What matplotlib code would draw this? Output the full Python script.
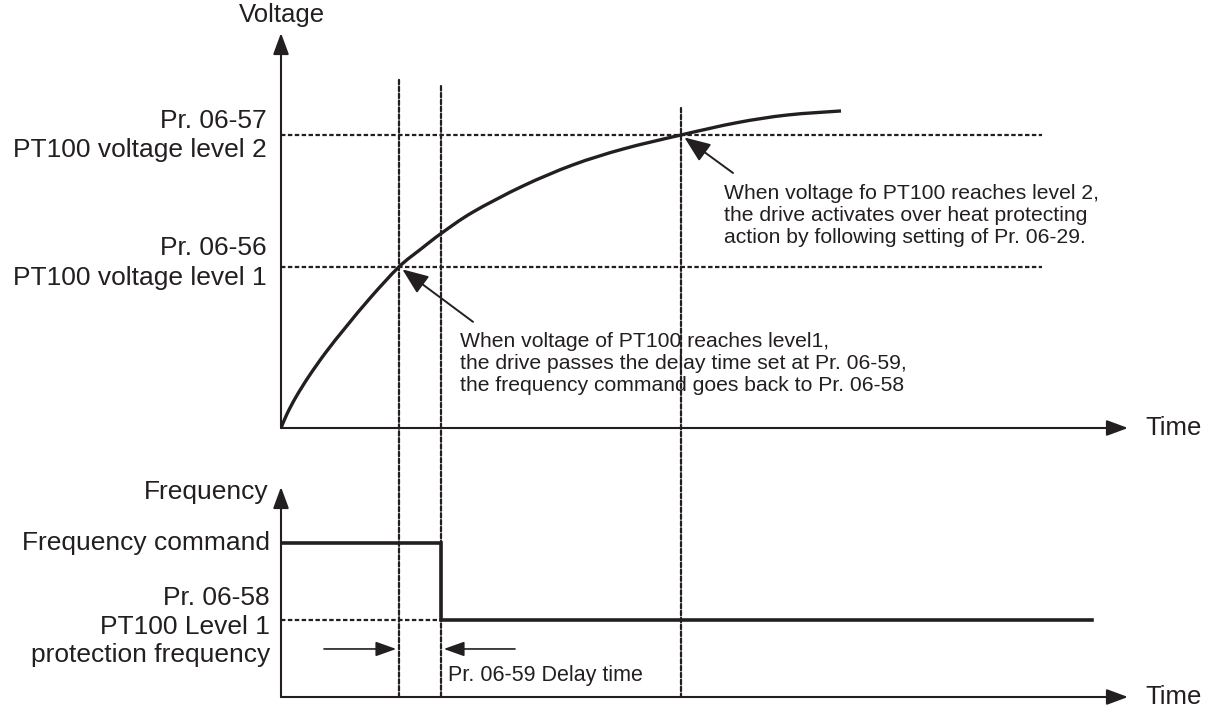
import matplotlib
matplotlib.use("Agg")
import matplotlib.pyplot as plt
from matplotlib.patches import ConnectionPatch, PathPatch
from matplotlib.path import Path

plt.rcParams['font.family'] = ['Liberation Sans', 'DejaVu Sans']

INK = '#231f20'

# time marks (arbitrary time units)
t_level1 = 2.95      # voltage reaches level 1
t_delay_end = 4.0    # end of Pr. 06-59 delay
t_level2 = 10.0      # voltage reaches level 2

# voltage levels (arbitrary units)
v_level1 = 5.5
v_level2 = 10.0

# PT100 voltage curve
curve_t = [0, 0.15, 0.375, 0.7, 1.125, 1.625, 2.25, 2.95, 3.5, 4.025, 4.8,
           6.05, 7.3, 8.55, 10.0, 11.4, 12.65, 14.0]
curve_v = [0, 0.48, 1.06, 1.77, 2.59, 3.45, 4.47, 5.5, 6.11, 6.66, 7.37,
           8.26, 8.98, 9.52, 10.0, 10.42, 10.68, 10.82]

# frequency command (arbitrary units)
f_command = 10.0
f_protect = 5.0
freq_t = [0, t_delay_end, t_delay_end, 20.28]
freq_v = [f_command, f_command, f_protect, f_protect]

W, H = 1216, 711
fig = plt.figure(figsize=(W / 100, H / 100), dpi=100)

def px_axes(l, r, b, t):
    return fig.add_axes([l / W, 1 - b / H, (r - l) / W, (b - t) / H])

def smooth_path(xs, ys):
    # Catmull-Rom through the read points, drawn as cubic Bezier segments
    pts = list(zip(xs, ys))
    verts = [pts[0]]
    codes = [Path.MOVETO]
    for i in range(len(pts) - 1):
        p0 = pts[i - 1] if i > 0 else pts[i]
        p1, p2 = pts[i], pts[i + 1]
        p3 = pts[i + 2] if i + 2 < len(pts) else pts[i + 1]
        c1 = (p1[0] + (p2[0] - p0[0]) / 6, p1[1] + (p2[1] - p0[1]) / 6)
        c2 = (p2[0] - (p3[0] - p1[0]) / 6, p2[1] - (p3[1] - p1[1]) / 6)
        verts += [c1, c2, p2]
        codes += [Path.CURVE4] * 3
    return Path(verts, codes)

ax1 = px_axes(281, 1128, 428, 33)
ax2 = px_axes(281, 1128, 697, 487)
for ax in (ax1, ax2):
    ax.set_xlim(0, 21.175)
    ax.axis('off')
ax1.set_ylim(0, 13.48)
ax2.set_ylim(0, 13.64)

axis_arrow = dict(arrowstyle='-|>,head_length=0.65,head_width=0.24',
                  mutation_scale=20, lw=1.5, color=INK, shrinkA=0, shrinkB=0)

for ax in (ax1, ax2):
    x0, x1 = ax.get_xlim()
    y0, y1 = ax.get_ylim()
    ax.annotate('', xy=(x1, 0), xytext=(0, 0), arrowprops=axis_arrow,
                annotation_clip=False)
    ax.annotate('', xy=(0, y1), xytext=(0, 0), arrowprops=axis_arrow,
                annotation_clip=False)
    ax.annotate('Time', xy=(x1, 0), xytext=(17, 0), textcoords='offset pixels',
                ha='left', va='center', fontsize=18.5, color=INK,
                annotation_clip=False)

lab = dict(fontsize=19, color=INK, ha='right', va='center',
           textcoords='offset pixels', annotation_clip=False)

# upper panel
ax1.annotate('Voltage', xy=(0, ax1.get_ylim()[1]), xytext=(1, 18),
             **{**lab, 'ha': 'center', 'fontsize': 18.5})
ax1.annotate('Pr. 06-57', xy=(0, v_level2), xytext=(-14, 14), **lab)
ax1.annotate('PT100 voltage level 2', xy=(0, v_level2), xytext=(-14, -15), **lab)
ax1.annotate('Pr. 06-56', xy=(0, v_level1), xytext=(-14, 19), **lab)
ax1.annotate('PT100 voltage level 1', xy=(0, v_level1), xytext=(-14, -11), **lab)

dash = dict(color=INK, lw=1.6, linestyle=(0, (2.0, 1.1)))
ax1.plot([0, 19.03], [v_level2, v_level2], **dash)
ax1.plot([0, 19.03], [v_level1, v_level1], **dash)
ax1.add_patch(PathPatch(smooth_path(curve_t, curve_v), facecolor='none',
                        edgecolor=INK, lw=2.4, capstyle='butt'))

pointer = dict(arrowstyle='-|>,head_length=0.8,head_width=0.32',
               mutation_scale=20, lw=1.4, color=INK, shrinkA=0, shrinkB=3)
ax1.annotate('', xy=(t_level1, v_level1), xytext=(74, -55),
             textcoords='offset pixels', arrowprops=pointer)
ax1.annotate('', xy=(t_level2, v_level2), xytext=(52, -38),
             textcoords='offset pixels', arrowprops=pointer)

note = dict(fontsize=15.2, color=INK, ha='left', va='top', linespacing=1.2,
            textcoords='offset pixels', annotation_clip=False)
ax1.annotate('When voltage of PT100 reaches level1,\n'
             'the drive passes the delay time set at Pr. 06-59,\n'
             'the frequency command goes back to Pr. 06-58',
             xy=(t_level1, v_level1), xytext=(61, -65), **note)
ax1.annotate('When voltage fo PT100 reaches level 2,\n'
             'the drive activates over heat protecting\n'
             'action by following setting of Pr. 06-29.',
             xy=(t_level2, v_level2), xytext=(43, -49), **note)

# lower panel
ax2.annotate('Frequency', xy=(0, ax2.get_ylim()[1]), xytext=(-12, -5), **lab)
ax2.annotate('Frequency command', xy=(0, f_command), xytext=(-11, 0), **lab)
ax2.annotate('Pr. 06-58', xy=(0, f_protect), xytext=(-11, 22), **lab)
ax2.annotate('PT100 Level 1', xy=(0, f_protect), xytext=(-11, -7), **lab)
ax2.annotate('protection frequency', xy=(0, f_protect), xytext=(-11, -35), **lab)

ax2.plot([0, t_delay_end], [f_protect, f_protect], **dash)
ax2.plot(freq_t, freq_v, color=INK, lw=2.6, solid_joinstyle='miter')

small = dict(arrowstyle='-|>,head_length=0.7,head_width=0.25',
             mutation_scale=18, lw=1.2, color=INK, shrinkA=0, shrinkB=2)
ax2.annotate('', xy=(t_level1, 3.12), xytext=(-75, 0),
             textcoords='offset pixels', arrowprops=small)
ax2.annotate('', xy=(t_delay_end, 3.12), xytext=(74, 0),
             textcoords='offset pixels', arrowprops=small)
ax2.annotate('Pr. 06-59 Delay time', xy=(t_delay_end, 0), xytext=(7, 21),
             textcoords='offset pixels', ha='left', va='center',
             fontsize=15.5, color=INK)

# vertical marker lines spanning both panels
for t, top in ((t_level1, 11.88), (t_delay_end, 11.67), (t_level2, 10.92)):
    con = ConnectionPatch(xyA=(t, top), coordsA=ax1.transData,
                          xyB=(t, 0), coordsB=ax2.transData, **dash)
    fig.add_artist(con)

fig.savefig('out.png', dpi=100, facecolor='white')
